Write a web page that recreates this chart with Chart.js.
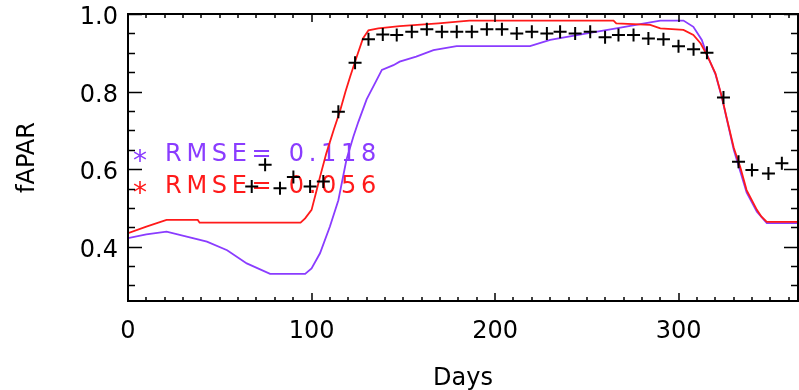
<!DOCTYPE html>
<html>
<head>
<meta charset="utf-8">
<script src="https://cdn.jsdelivr.net/npm/chart.js@4/dist/chart.umd.min.js"></script>
<style>
  html, body { margin: 0; padding: 0; background: #fff; overflow: hidden; }
  #wrap { width: 799px; height: 390px; }
  canvas { display: block; }
</style>
</head>
<body>
<div id="wrap"><canvas id="fapar" width="799" height="390"></canvas></div>
<script>
// observed fAPAR (black crosses)
const obsDays = [67.4, 74.7, 82.8, 90.1, 99.2, 106.4, 114.6, 123.7, 131, 138.8, 146.4, 154.6, 162.8, 171, 179.1, 187.3, 195.5, 203.7, 211.8, 220, 228.2, 235.4, 243.6, 251.8, 259.9, 267.2, 275.4, 283.5, 291.7, 299.9, 308.1, 315.4, 324.4, 332.6, 339.9, 348.9, 356.2];
const obsFapar = [0.555, 0.611, 0.551, 0.580, 0.555, 0.568, 0.748, 0.874, 0.935, 0.947, 0.946, 0.954, 0.961, 0.954, 0.954, 0.954, 0.961, 0.961, 0.950, 0.954, 0.950, 0.954, 0.950, 0.954, 0.940, 0.946, 0.946, 0.937, 0.935, 0.917, 0.909, 0.900, 0.785, 0.619, 0.598, 0.589, 0.615];

// model 1 (purple), RMSE 0.118
const purpleDays = [0, 10, 21, 32, 43, 54, 64.7, 77.4, 96.5, 100, 104.6, 110, 114.6, 119, 122.8, 125.5, 130, 135.5, 138.3, 144.6, 148, 157, 166.4, 179, 219, 230, 250, 266, 279, 290, 302.6, 308, 312.6, 315, 320, 323.5, 330, 337, 342.6, 348, 365];
const purpleFapar = [0.422, 0.432, 0.439, 0.426, 0.413, 0.391, 0.357, 0.330, 0.330, 0.344, 0.383, 0.452, 0.520, 0.624, 0.684, 0.722, 0.780, 0.830, 0.856, 0.868, 0.877, 0.890, 0.907, 0.917, 0.917, 0.933, 0.950, 0.963, 0.974, 0.983, 0.983, 0.967, 0.933, 0.900, 0.845, 0.785, 0.650, 0.540, 0.490, 0.461, 0.461];

// model 2 (red), RMSE 0.056
const redDays = [0, 10, 21, 38, 39, 94, 96.5, 100, 102.8, 104.6, 108, 112, 115.5, 118.5, 121, 124.6, 128, 131, 136.4, 148, 169, 186, 264.5, 266, 284.5, 290, 302.6, 308, 312, 315.4, 320, 323.5, 326, 330, 333.5, 337, 342.6, 345, 348, 365];
const redFapar = [0.435, 0.452, 0.469, 0.469, 0.462, 0.462, 0.473, 0.495, 0.546, 0.580, 0.640, 0.700, 0.750, 0.800, 0.838, 0.890, 0.937, 0.958, 0.963, 0.969, 0.976, 0.983, 0.983, 0.976, 0.972, 0.963, 0.959, 0.946, 0.924, 0.894, 0.847, 0.787, 0.735, 0.655, 0.606, 0.546, 0.495, 0.478, 0.464, 0.464];

const xTicks = [0, 100, 200, 300];
const yTicks = [0.4, 0.6, 0.8, 1.0];
const rmseLabels = ['RMSE= 0.118', 'RMSE= 0.056'];

const PURPLE = '#8a3cff';
const RED = '#ff1a1a';
const FONT = { family: '"DejaVu Sans", sans-serif', size: 24 };

function pairs(xs, ys) {
  return xs.map((x, i) => ({ x: x, y: ys[i] }));
}

// box with inward ticks, IDL style
const axisBox = {
  id: 'axisBox',
  afterDatasetsDraw(chart) {
    const { ctx, chartArea: a, scales: { x, y } } = chart;
    ctx.save();
    ctx.strokeStyle = '#000';
    ctx.lineWidth = 2;
    ctx.strokeRect(a.left, a.top, a.right - a.left, a.bottom - a.top);
    ctx.lineWidth = 1.5;
    ctx.beginPath();
    for (let d = 0; d <= x.max; d += 10) {
      const px = Math.round(x.getPixelForValue(d));
      const len = d % 100 === 0 ? 8 : 4;
      ctx.moveTo(px, a.bottom); ctx.lineTo(px, a.bottom - len);
      ctx.moveTo(px, a.top); ctx.lineTo(px, a.top + len);
    }
    for (let k = 0; k * 0.05 + 0.3 <= 1.0001; k++) {
      const v = 0.3 + k * 0.05;
      const py = Math.round(y.getPixelForValue(v)) + 0.5;
      const major = Math.abs(v * 5 - Math.round(v * 5)) < 1e-6;
      const len = major ? 14 : 7;
      ctx.moveTo(a.left, py); ctx.lineTo(a.left + len, py);
      ctx.moveTo(a.right, py); ctx.lineTo(a.right - len, py);
    }
    ctx.stroke();
    ctx.restore();
  }
};

// RMSE notes
const rmseNotes = {
  id: 'rmseNotes',
  beforeDatasetsDraw(chart) {
    const ctx = chart.ctx;
    const rows = [[rmseLabels[0], PURPLE, 155], [rmseLabels[1], RED, 187]];
    ctx.save();
    ctx.textBaseline = 'middle';
    rows.forEach(r => {
      ctx.fillStyle = r[1];
      ctx.font = '28px "DejaVu Sans", sans-serif';
      ctx.textAlign = 'center';
      ctx.letterSpacing = '0px';
      ctx.fillText('*', 140, r[2] + 8);
      ctx.font = '24px "DejaVu Sans", sans-serif';
      ctx.textAlign = 'left';
      ctx.letterSpacing = '4.7px';
      ctx.fillText(r[0], 165, r[2]);
    });
    ctx.restore();
  }
};

new Chart(document.getElementById('fapar'), {
  type: 'line',
  data: {
    datasets: [
      {
        label: 'observed',
        data: pairs(obsDays, obsFapar),
        showLine: false,
        pointStyle: 'cross',
        pointRadius: 6.5,
        pointBorderWidth: 2,
        pointBorderColor: '#000',
        order: 0
      },
      {
        label: 'model 2',
        data: pairs(redDays, redFapar),
        borderColor: RED,
        borderWidth: 1.8,
        pointRadius: 0,
        tension: 0,
        order: 1
      },
      {
        label: 'model 1',
        data: pairs(purpleDays, purpleFapar),
        borderColor: PURPLE,
        borderWidth: 1.8,
        pointRadius: 0,
        tension: 0,
        order: 2
      }
    ]
  },
  options: {
    responsive: false,
    animation: false,
    events: [],
    layout: { autoPadding: false, padding: { top: 14, right: 1, left: 0, bottom: 0 } },
    plugins: { legend: { display: false }, tooltip: { enabled: false } },
    scales: {
      x: {
        type: 'linear',
        min: 0,
        max: 365,
        afterFit: s => { s.height = 89; s.paddingLeft = 0; s.paddingRight = 0; },
        afterBuildTicks: s => { s.ticks = xTicks.map(v => ({ value: v })); },
        grid: { display: false, drawTicks: false },
        border: { display: false },
        ticks: { font: FONT, color: '#000', padding: 16, maxRotation: 0, autoSkip: false },
        title: { display: true, text: 'Days', font: FONT, color: '#000', padding: { top: 0, bottom: -3 } }
      },
      y: {
        type: 'linear',
        min: 0.26,
        max: 1.0,
        afterFit: s => { s.width = 128; s.paddingTop = 0; s.paddingBottom = 0; },
        afterBuildTicks: s => { s.ticks = yTicks.map(v => ({ value: v })); },
        grid: { display: false, drawTicks: false },
        border: { display: false },
        ticks: { font: FONT, color: '#000', padding: 10, labelOffset: 4, autoSkip: false, callback: v => v.toFixed(1) },
        title: { display: true, text: 'fAPAR', font: FONT, color: '#000', padding: { top: 13, bottom: 0 } }
      }
    }
  },
  plugins: [axisBox, rmseNotes]
});
</script>
</body>
</html>
